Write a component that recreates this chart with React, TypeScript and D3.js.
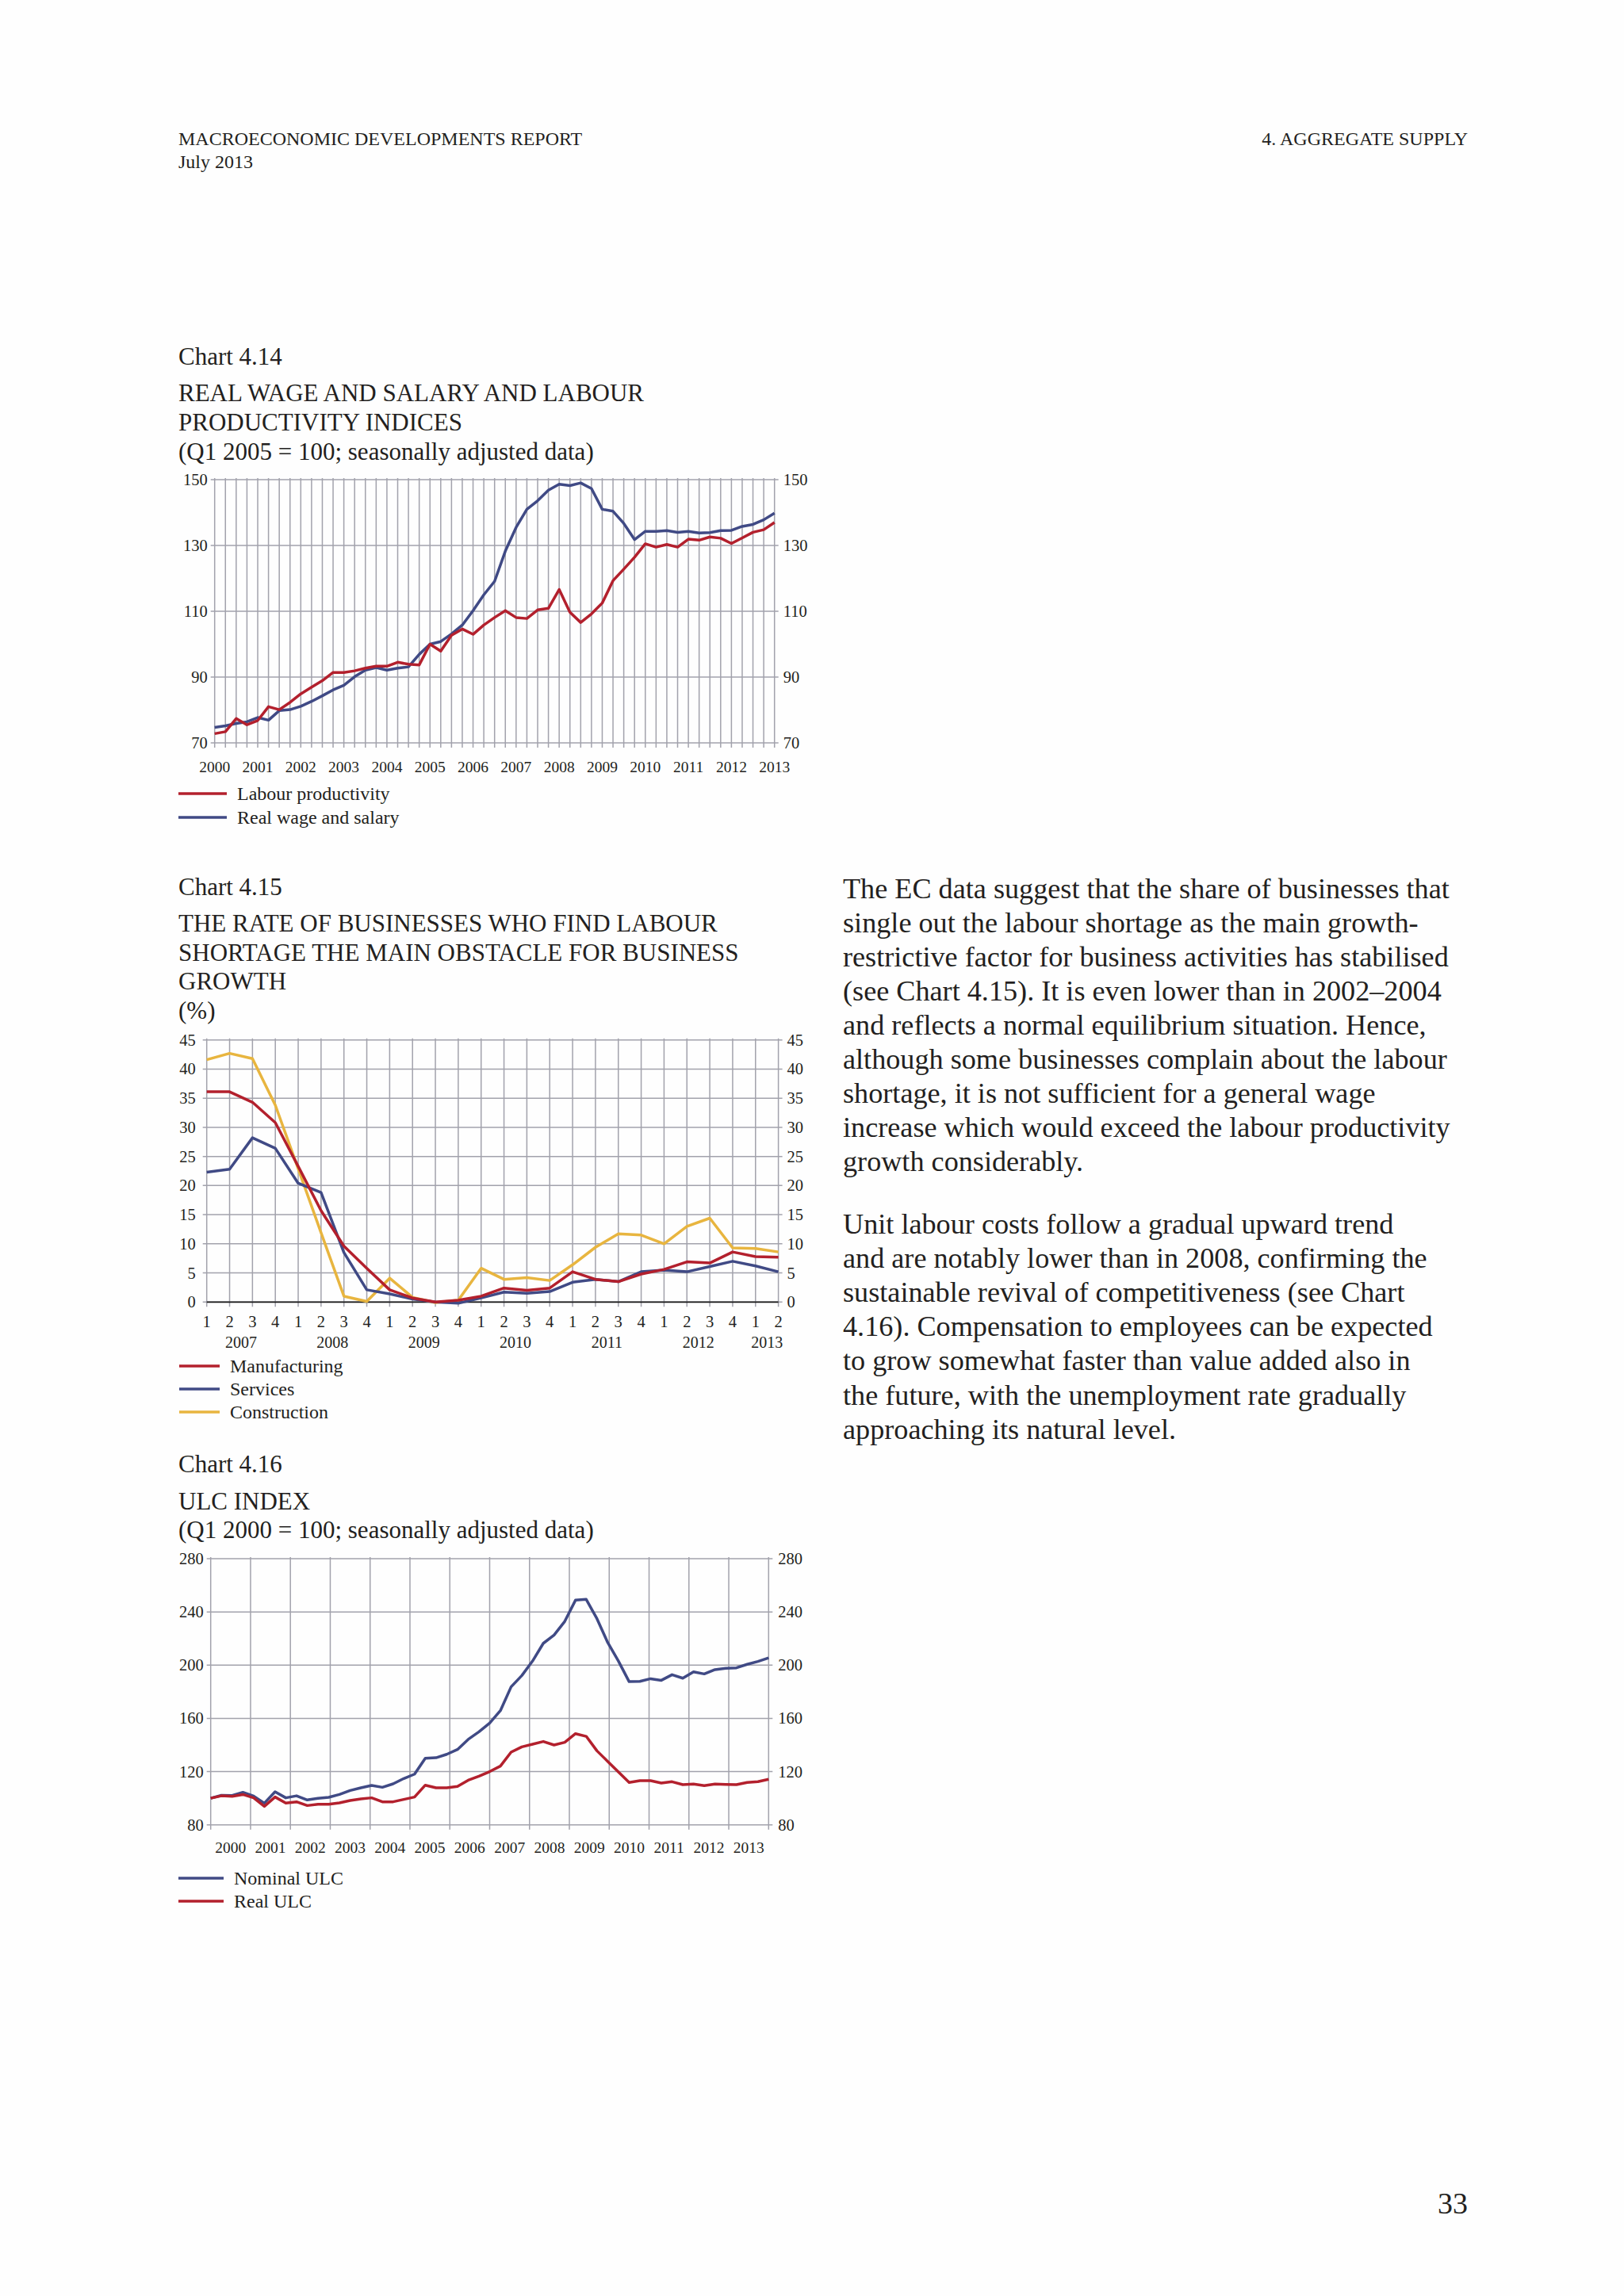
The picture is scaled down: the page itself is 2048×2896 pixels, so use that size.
import React from 'react';
import * as d3 from 'd3';

const FONT = '"Liberation Serif", "Times New Roman", serif';
const INK = '#231f20';
const RED = '#b3202d';
const BLUE = '#404a85';
const YELLOW = '#e8b53f';
const GRID = '#a2a2ac';

// Chart 4.14: quarterly, 2000Q1 .. 2013Q1
const YEARS_414 = ['2000', '2001', '2002', '2003', '2004', '2005', '2006', '2007', '2008', '2009', '2010', '2011', '2012', '2013'];
const LABOUR_PRODUCTIVITY = [
  72.8, 73.4, 77.4, 75.5, 76.8, 81.0, 80.1, 82.3, 84.9, 86.9, 88.9, 91.4, 91.4, 91.9, 92.7, 93.3,
  93.3, 94.5, 93.9, 93.7, 100.0, 97.9, 102.7, 104.6, 103.0, 105.8, 108.1, 110.2, 108.1, 107.8, 110.4, 110.9,
  116.6, 109.7, 106.6, 109.2, 112.5, 119.3, 122.8, 126.4, 130.5, 129.5, 130.3, 129.5, 131.9, 131.6, 132.6, 132.2,
  130.6, 132.3, 134.0, 134.8, 137.0,
];
const REAL_WAGE = [
  74.7, 75.2, 75.9, 76.4, 77.7, 76.9, 79.8, 80.1, 81.1, 82.6, 84.3, 86.1, 87.5, 90.1, 92.1, 92.9,
  92.1, 92.7, 93.1, 96.9, 100.0, 100.8, 103.1, 105.8, 110.2, 115.0, 119.1, 128.3, 135.5, 141.0, 143.6, 146.8,
  148.6, 148.2, 149.0, 147.3, 141.0, 140.4, 136.7, 131.8, 134.3, 134.3, 134.5, 134.0, 134.3, 133.8, 133.9, 134.5,
  134.6, 135.8, 136.4, 137.8, 139.8,
];
const TICKS_414 = [70, 90, 110, 130, 150];

// Chart 4.15: quarterly, 2007Q1 .. 2013Q2
const QUARTER_LABELS = ['1', '2', '3', '4', '1', '2', '3', '4', '1', '2', '3', '4', '1', '2', '3', '4', '1', '2', '3', '4', '1', '2', '3', '4', '1', '2'];
const YEARS_415 = ['2007', '2008', '2009', '2010', '2011', '2012', '2013'];
const MANUFACTURING = [36.1, 36.1, 34.3, 30.8, 23.3, 15.7, 9.6, 5.8, 2.1, 0.7, 0.0, 0.3, 1.0, 2.4, 2.0, 2.4, 5.2, 3.9, 3.5, 4.8, 5.6, 6.9, 6.7, 8.6, 7.8, 7.7];
const SERVICES = [22.3, 22.8, 28.2, 26.4, 20.4, 18.8, 8.5, 2.1, 1.4, 0.5, 0.0, -0.2, 0.7, 1.7, 1.5, 1.8, 3.4, 3.9, 3.5, 5.2, 5.5, 5.2, 6.1, 7.0, 6.2, 5.2];
const CONSTRUCTION = [41.6, 42.7, 41.8, 33.8, 22.9, 11.9, 1.0, 0.1, 4.1, 0.8, -0.1, 0.3, 5.8, 3.9, 4.2, 3.7, 6.4, 9.4, 11.7, 11.5, 10.0, 13.0, 14.4, 9.3, 9.2, 8.6];
const TICKS_415 = [0, 5, 10, 15, 20, 25, 30, 35, 40, 45];

// Chart 4.16: quarterly, 2000Q1 .. 2013Q1
const YEARS_416 = ['2000', '2001', '2002', '2003', '2004', '2005', '2006', '2007', '2008', '2009', '2010', '2011', '2012', '2013'];
const NOMINAL_ULC = [
  100.0, 102.2, 102.0, 104.4, 101.6, 96.3, 104.8, 100.3, 101.8, 98.7, 99.9, 100.7, 102.8, 105.8, 107.8, 109.6,
  108.2, 110.8, 114.8, 118.1, 130.0, 130.4, 133.0, 136.6, 144.2, 149.9, 156.5, 165.8, 183.7, 192.2, 203.1, 216.4,
  222.6, 232.9, 248.8, 249.4, 234.9, 217.0, 203.1, 187.6, 187.8, 189.8, 188.6, 192.8, 190.2, 195.0, 193.4, 196.6,
  197.6, 198.0, 200.6, 202.8, 205.5,
];
const REAL_ULC = [
  100.0, 101.8, 101.4, 102.8, 100.3, 93.9, 100.9, 96.3, 97.3, 94.5, 95.5, 95.5, 96.5, 98.3, 99.5, 100.3,
  97.3, 97.3, 99.1, 100.9, 109.8, 107.8, 107.8, 108.8, 113.5, 116.5, 120.0, 124.1, 134.6, 138.6, 140.6, 142.6,
  140.0, 142.0, 148.5, 146.5, 135.6, 127.7, 119.7, 111.8, 113.2, 113.2, 111.4, 112.4, 110.2, 110.6, 109.4, 110.6,
  110.4, 110.2, 111.8, 112.4, 114.2,
];
const TICKS_416 = [80, 120, 160, 200, 240, 280];

const PARA_1 = [
  'The EC data suggest that the share of businesses that',
  'single out the labour shortage as the main growth-',
  'restrictive factor for business activities has stabilised',
  '(see Chart 4.15). It is even lower than in 2002\u20132004',
  'and reflects a normal equilibrium situation. Hence,',
  'although some businesses complain about the labour',
  'shortage, it is not sufficient for a general wage',
  'increase which would exceed the labour productivity',
  'growth considerably.',
];
const PARA_2 = [
  'Unit labour costs follow a gradual upward trend',
  'and are notably lower than in 2008, confirming the',
  'sustainable revival of competitiveness (see Chart',
  '4.16). Compensation to employees can be expected',
  'to grow somewhat faster than value added also in',
  'the future, with the unemployment rate gradually',
  'approaching its natural level.',
];

interface Series { name: string; values: number[]; color: string }

interface FrameProps {
  left: number; right: number; top: number; bottom: number;
  y: d3.ScaleLinear<number, number>;
  yTicks: number[];
  vGrid: number[];
  leftGap: number; rightGap: number;
  zeroAxis?: boolean;
  series: Series[];
  x: d3.ScaleLinear<number, number>;
}

const Frame: React.FC<FrameProps> = ({ left, right, top, bottom, y, yTicks, vGrid, leftGap, rightGap, zeroAxis, series, x }) => {
  const line = (vals: number[]) =>
    d3.line<number>().x((_, i) => x(i)).y((d) => y(d))(vals) ?? '';
  return (
    <g>
      {yTicks.map((t) => (
        <g key={'h' + t}>
          <line x1={left - 5} x2={right + 5} y1={y(t)} y2={y(t)} stroke={GRID} strokeWidth={1.5} />
          <text x={left - leftGap} y={y(t) + 7} textAnchor="end" fontSize={20.5} fontFamily={FONT} fill={INK}>{t}</text>
          <text x={right + rightGap} y={y(t) + 7} fontSize={20.5} fontFamily={FONT} fill={INK}>{t}</text>
        </g>
      ))}
      {vGrid.map((vx, i) => (
        <line key={'v' + i} x1={vx} x2={vx} y1={top - 2} y2={bottom + 6} stroke={GRID} strokeWidth={1.5} />
      ))}
      {zeroAxis && <line x1={left} x2={right} y1={y(0)} y2={y(0)} stroke="#1a1a1a" strokeWidth={1.8} />}
      {series.map((s) => (
        <path key={s.name} d={line(s.values)} fill="none" stroke={s.color} strokeWidth={3.5} strokeLinejoin="round" />
      ))}
    </g>
  );
};

const Legend: React.FC<{ items: Series[]; x1: number; x2: number; tx: number; ys: number[] }> = ({ items, x1, x2, tx, ys }) => (
  <g>
    {items.map((s, i) => (
      <g key={s.name}>
        <line x1={x1} x2={x2} y1={ys[i]} y2={ys[i]} stroke={s.color} strokeWidth={3.6} />
        <text x={tx} y={ys[i] + 8} fontSize={24} fontFamily={FONT} fill={INK}>{s.name}</text>
      </g>
    ))}
  </g>
);

const Titles: React.FC<{ lines: string[]; ys: number[] }> = ({ lines, ys }) => (
  <g>
    {lines.map((t, i) => (
      <text key={i} x={225} y={ys[i]} fontSize={31} fontFamily={FONT} fill={INK}>{t}</text>
    ))}
  </g>
);

function Chart414() {
  const left = 270.7, right = 976.7, top = 605, bottom = 937;
  const n = LABOUR_PRODUCTIVITY.length;
  const x = d3.scaleLinear().domain([0, n - 1]).range([left, right]);
  const y = d3.scaleLinear().domain([70, 150]).range([bottom, top]);
  const series: Series[] = [
    { name: 'Labour productivity', values: LABOUR_PRODUCTIVITY, color: RED },
    { name: 'Real wage and salary', values: REAL_WAGE, color: BLUE },
  ];
  return (
    <g>
      <Titles
        lines={['Chart 4.14', 'REAL WAGE AND SALARY AND LABOUR', 'PRODUCTIVITY INDICES', '(Q1 2005 = 100; seasonally adjusted data)']}
        ys={[460, 506, 543, 580]}
      />
      <Frame left={left} right={right} top={top} bottom={bottom} x={x} y={y} yTicks={TICKS_414}
        vGrid={d3.range(n).map((i) => x(i))} leftGap={9} rightGap={11} series={[series[1], series[0]]} />
      {YEARS_414.map((yr, i) => (
        <text key={yr} x={x(i * 4)} y={974} textAnchor="middle" fontSize={19.5} fontFamily={FONT} fill={INK}>{yr}</text>
      ))}
      <Legend items={series} x1={225} x2={286} tx={299} ys={[1001, 1031]} />
    </g>
  );
}

function Chart415() {
  const left = 260.7, right = 981.6, top = 1311.7, bottom = 1642.3;
  const n = MANUFACTURING.length;
  const x = d3.scaleLinear().domain([0, n - 1]).range([left, right]);
  const y = d3.scaleLinear().domain([0, 45]).range([bottom, top]);
  const series: Series[] = [
    { name: 'Manufacturing', values: MANUFACTURING, color: RED },
    { name: 'Services', values: SERVICES, color: BLUE },
    { name: 'Construction', values: CONSTRUCTION, color: YELLOW },
  ];
  // year label centred on its quarters
  let start = 0;
  const yearPos = YEARS_415.map((yr) => {
    let end = start;
    while (end + 1 < n && QUARTER_LABELS[end + 1] !== '1') end++;
    const pos = (start + end) / 2;
    start = end + 1;
    return { yr, pos };
  });
  return (
    <g>
      <Titles
        lines={['Chart 4.15', 'THE RATE OF BUSINESSES WHO FIND LABOUR', 'SHORTAGE THE MAIN OBSTACLE FOR BUSINESS', 'GROWTH', '(%)']}
        ys={[1129, 1175, 1212, 1248, 1285]}
      />
      <Frame left={left} right={right} top={top} bottom={bottom} x={x} y={y} yTicks={TICKS_415}
        vGrid={d3.range(n).map((i) => x(i))} leftGap={14} rightGap={11} zeroAxis
        series={[series[2], series[1], series[0]]} />
      {QUARTER_LABELS.map((q, i) => (
        <text key={'q' + i} x={x(i)} y={1674} textAnchor="middle" fontSize={20.5} fontFamily={FONT} fill={INK}>{q}</text>
      ))}
      {yearPos.map(({ yr, pos }) => (
        <text key={yr} x={x(pos)} y={1700} textAnchor="middle" fontSize={20} fontFamily={FONT} fill={INK}>{yr}</text>
      ))}
      <Legend items={series} x1={226} x2={277} tx={290} ys={[1723, 1752, 1781]} />
    </g>
  );
}

function Chart416() {
  const left = 265.7, right = 969.3, top = 1966, bottom = 2301.7;
  const n = NOMINAL_ULC.length;
  const x = d3.scaleLinear().domain([0, n - 1]).range([left, right]);
  const y = d3.scaleLinear().domain([80, 280]).range([bottom, top]);
  const band = d3.scaleBand().domain(YEARS_416).range([left, right]);
  const series: Series[] = [
    { name: 'Nominal ULC', values: NOMINAL_ULC, color: BLUE },
    { name: 'Real ULC', values: REAL_ULC, color: RED },
  ];
  const vGrid = [...YEARS_416.map((yr) => band(yr) ?? 0), right];
  return (
    <g>
      <Titles lines={['Chart 4.16', 'ULC INDEX', '(Q1 2000 = 100; seasonally adjusted data)']} ys={[1857, 1903.5, 1939.5]} />
      <Frame left={left} right={right} top={top} bottom={bottom} x={x} y={y} yTicks={TICKS_416}
        vGrid={vGrid} leftGap={9} rightGap={12} series={series} />
      {YEARS_416.map((yr) => (
        <text key={yr} x={(band(yr) ?? 0) + band.bandwidth() / 2} y={2337} textAnchor="middle" fontSize={19.5} fontFamily={FONT} fill={INK}>{yr}</text>
      ))}
      <Legend items={series} x1={225} x2={282} tx={295} ys={[2369, 2398]} />
    </g>
  );
}

export default function App() {
  return (
    <svg width={2048} height={2896} style={{ position: 'absolute', left: 0, top: 0, background: '#fefefe' }}>
      <rect width={2048} height={2896} fill="#fefefe" />
      <text x={225} y={183} fontSize={24} fontFamily={FONT} fill={INK}>MACROECONOMIC DEVELOPMENTS REPORT</text>
      <text x={225} y={212} fontSize={24} fontFamily={FONT} fill={INK}>July 2013</text>
      <text x={1851} y={183} textAnchor="end" fontSize={24} fontFamily={FONT} fill={INK}>4. AGGREGATE SUPPLY</text>

      <Chart414 />
      <Chart415 />
      <Chart416 />

      {PARA_1.map((t, i) => (
        <text key={'a' + i} x={1063} y={1132.5 + i * 43.1} fontSize={36.2} fontFamily={FONT} fill={INK}>{t}</text>
      ))}
      {PARA_2.map((t, i) => (
        <text key={'b' + i} x={1063} y={1556 + i * 43.1} fontSize={36.2} fontFamily={FONT} fill={INK}>{t}</text>
      ))}

      <text x={1851} y={2792} textAnchor="end" fontSize={38} fontFamily={FONT} fill={INK}>33</text>
    </svg>
  );
}
